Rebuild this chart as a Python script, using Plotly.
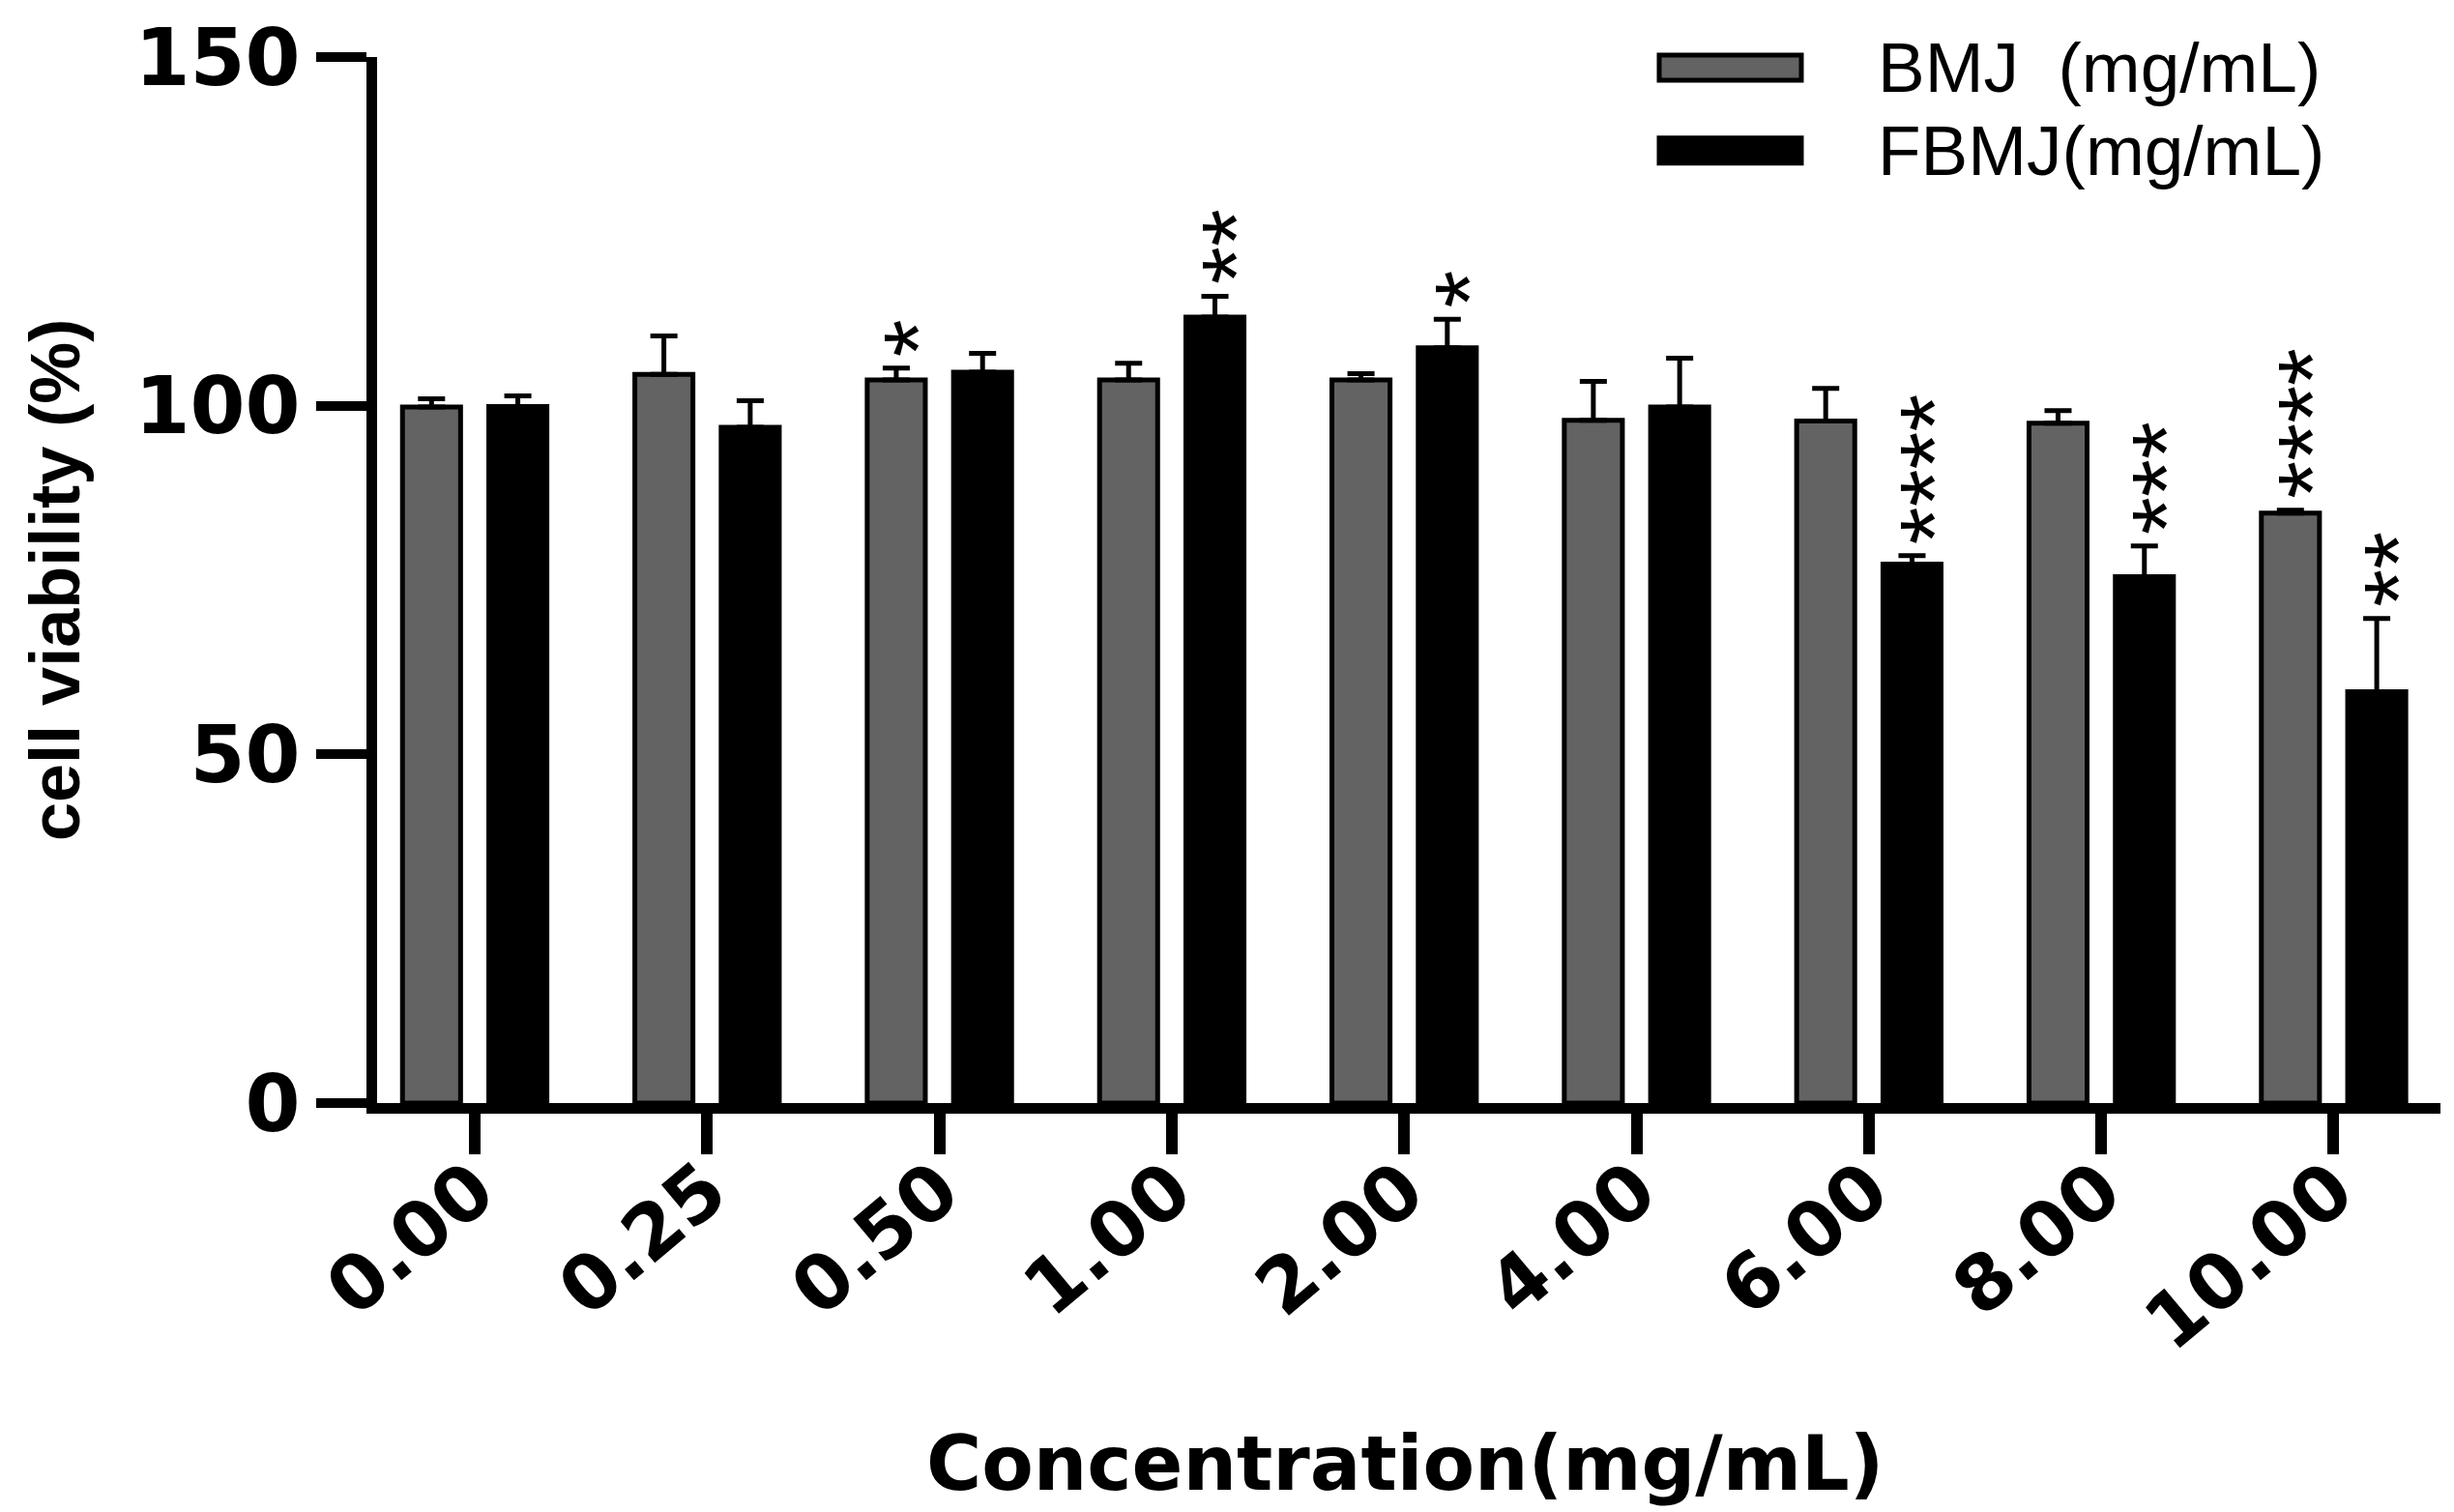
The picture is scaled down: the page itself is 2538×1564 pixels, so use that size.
import plotly.graph_objects as go

# ---------------- data ----------------
categories = ["0.00", "0.25", "0.50", "1.00", "2.00", "4.00", "6.00", "8.00", "10.00"]
series_names = ["BMJ  (mg/mL)", "FBMJ(mg/mL)"]
bmj_mean = [99.8, 104.5, 103.7, 103.7, 103.7, 97.9, 97.8, 97.5, 84.6]
bmj_sd = [1.2, 5.5, 1.7, 2.4, 0.9, 5.6, 4.7, 1.8, 0.4]
fbmj_mean = [99.9, 96.9, 104.8, 112.7, 108.3, 99.8, 77.3, 75.5, 59.0]
fbmj_sd = [1.5, 3.8, 2.7, 3.0, 4.1, 7.0, 1.2, 4.4, 10.5]
y_ticks = [0, 50, 100, 150]
sig_cat = ["0.50", "1.00", "2.00", "6.00", "8.00", "10.00", "10.00"]
sig_series = [0, 1, 1, 1, 1, 0, 1]
sig_label = ["*", "**", "*", "****", "***", "****", "**"]

# ---------------- layout constants (pixels) ----------------
W, H = 2538, 1564
ML, MR, MT, MB = 390, 14, 57, 423
PW, PH = W - ML - MR, H - MT - MB
BARGAP, GROUPGAP = 0.257, 0.327
colors = ["#636363", "#000000"]
means = [bmj_mean, fbmj_mean]
sds = [bmj_sd, fbmj_sd]
BOLD_WIDE = "DejaVu Sans"
ARIAL = "Liberation Sans"


def px(xp):
    return (xp - ML) / PW


def py(yp):
    return (H - MB - yp) / PH


fig = go.Figure()
for k in range(2):
    fig.add_trace(go.Bar(
        x=categories, y=means[k], name=series_names[k], showlegend=False,
        marker=dict(color=colors[k], line=dict(color="black", width=5)),
        error_y=dict(type="data", array=sds[k], arrayminus=[0] * len(categories),
                     symmetric=False, color="black", thickness=5, width=14),
    ))

# significance stars (stacked, rotated like GraphPad)
d = (1 - BARGAP) / 4
STAR_SIZE = 100
for c, s, lab in zip(sig_cat, sig_series, sig_label):
    i = categories.index(c)
    xc = i - d if s == 0 else i + d
    top = means[s][i] + sds[s][i]
    fig.add_annotation(
        x=xc, y=top, xref="x", yref="y", text=lab, showarrow=False,
        textangle=-90, xanchor="center", yanchor="bottom",
        yshift=10, xshift=0.22 * STAR_SIZE,
        font=dict(family=ARIAL, size=STAR_SIZE, color="black"),
    )

# axis titles
fig.add_annotation(
    x=px(57), y=0.5, xref="paper", yref="paper", text="cell viability (%)",
    textangle=-90, showarrow=False, xanchor="center", yanchor="middle",
    font=dict(family=ARIAL, size=72, color="black", weight="bold"),
)
fig.add_annotation(
    x=px(1453), y=py(1515), xref="paper", yref="paper", text="Concentration(mg/mL)",
    showarrow=False, xanchor="center", yanchor="middle",
    font=dict(family=BOLD_WIDE, size=78, color="black", weight="bold"),
)

# custom legend (wide rounded symbols as in the original)
rows = [68, 154]
for k in range(2):
    yc = rows[k]
    fig.add_shape(
        type="rect", xref="paper", yref="paper",
        x0=px(1716), x1=px(1863), y0=py(yc + 13), y1=py(yc - 13),
        fillcolor=colors[k], line=dict(color="black", width=5),
    )
    fig.add_annotation(
        x=px(1940), y=py(yc), xref="paper", yref="paper", text=series_names[k],
        showarrow=False, xanchor="left", yanchor="middle",
        font=dict(family=ARIAL, size=73, color="black"),
    )

fig.update_layout(
    width=W, height=H,
    margin=dict(l=ML, r=MR, t=MT, b=MB, pad=0),
    paper_bgcolor="white", plot_bgcolor="white",
    barmode="group", bargap=BARGAP, bargroupgap=GROUPGAP,
    showlegend=False,
    xaxis=dict(
        type="category", range=[-0.42, 8.46], showgrid=False, zeroline=False,
        showline=True, linewidth=11, linecolor="black",
        ticks="outside", ticklen=42, tickwidth=12, tickcolor="black",
        tickangle=-40, ticklabelstandoff=-40,
        tickfont=dict(family=BOLD_WIDE, size=79, color="black", weight="bold"),
    ),
    yaxis=dict(
        range=[0, 150], tickvals=y_ticks, showgrid=False, zeroline=False,
        showline=True, linewidth=11, linecolor="black",
        ticks="outside", ticklen=52, tickwidth=10, tickcolor="black",
        tickfont=dict(family=BOLD_WIDE, size=82, color="black", weight="bold"),
    ),
)

fig.write_html("out.html", config={"displayModeBar": False},
               post_script="document.body.style.margin='0';")
